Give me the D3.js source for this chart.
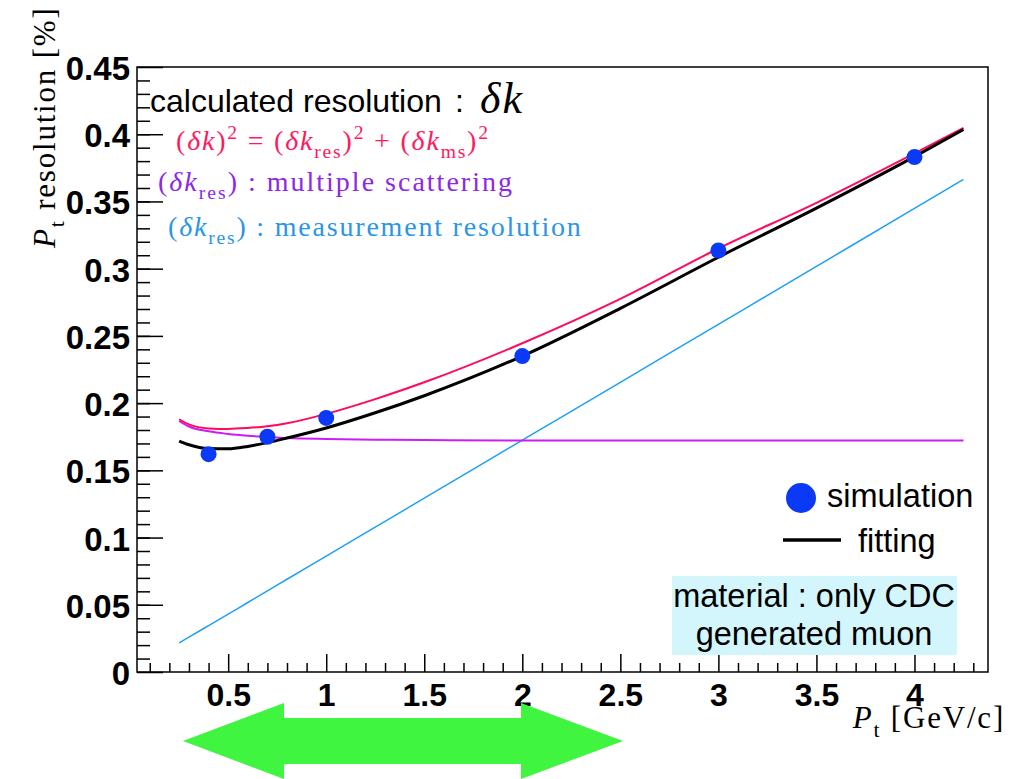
<!DOCTYPE html>
<html>
<head>
<meta charset="utf-8">
<script src="https://cdn.jsdelivr.net/npm/d3@7"></script>
<style>
  html, body { margin: 0; padding: 0; background: #fff; }
  svg { display: block; }
  .sans { font-family: "Liberation Sans", Arial, Helvetica, sans-serif; }
  .serif { font-family: "Liberation Serif", "DejaVu Serif", serif; }
</style>
</head>
<body>
<div id="chart"></div>
<script>
// simulated points
var simPt = [0.4, 0.7, 1.0, 2.0, 3.0, 4.0];
var simRes = [0.162, 0.175, 0.189, 0.235, 0.3135, 0.383];

// calculated curves
var curvePt = [0.25, 0.3, 0.4, 0.5, 0.6, 0.7, 0.8, 1.0, 1.25, 1.5, 2.0, 2.5, 3.0, 3.5, 4.0, 4.25];
var totalRes = [0.188, 0.1842, 0.1812, 0.1808, 0.1815, 0.1828, 0.185, 0.192, 0.203, 0.2155, 0.2445, 0.2775, 0.315, 0.349, 0.3858, 0.4048];
var msRes = [0.1868, 0.1826, 0.179, 0.177, 0.1757, 0.1748, 0.174, 0.1733, 0.1728, 0.1725, 0.1722, 0.1722, 0.1721, 0.1721, 0.1721, 0.1721];
var measRes = [0.0216, 0.0259, 0.0345, 0.0431, 0.0517, 0.0603, 0.069, 0.0862, 0.1078, 0.1293, 0.1724, 0.2155, 0.2586, 0.3017, 0.3448, 0.3664];
var fitRes = [0.1718, 0.169, 0.1662, 0.166, 0.1678, 0.1706, 0.174, 0.1815, 0.1928, 0.2055, 0.235, 0.2705, 0.3085, 0.345, 0.3833, 0.4035];

// axis ticks
var xTicks = [0.5, 1, 1.5, 2, 2.5, 3, 3.5, 4];
var xTickLabels = ["0.5", "1", "1.5", "2", "2.5", "3", "3.5", "4"];
var yTicks = [0, 0.05, 0.1, 0.15, 0.2, 0.25, 0.3, 0.35, 0.4, 0.45];
var yTickLabels = ["0", "0.05", "0.1", "0.15", "0.2", "0.25", "0.3", "0.35", "0.4", "0.45"];

var W = 1012, H = 779;
var frame = {left: 137, top: 67, right: 988, bottom: 672};

var svg = d3.select('#chart').append('svg')
  .attr('width', W)
  .attr('height', H);

var x = d3.scaleLinear().domain([0.035, 4.375]).range([frame.left, frame.right]);
var y = d3.scaleLinear().domain([0, 0.45]).range([frame.bottom, frame.top]);

// minor ticks
var xMinor = d3.range(1, 44).map(function(i) { return i / 10; }).filter(function(v) { return xTicks.indexOf(v) < 0; });
var yMinor = d3.range(1, 45).map(function(i) { return i / 100; });

svg.append('g')
  .attr('transform', 'translate(0,' + frame.bottom + ')')
  .call(d3.axisBottom(x).tickValues(xMinor).tickSize(-9).tickFormat(''))
  .call(function(g) { g.select('.domain').remove(); });

svg.append('g')
  .attr('transform', 'translate(' + frame.left + ',0)')
  .call(d3.axisLeft(y).tickValues(yMinor).tickSize(-13).tickFormat(''))
  .call(function(g) { g.select('.domain').remove(); });

var xAxis = svg.append('g')
  .attr('class', 'sans')
  .attr('transform', 'translate(0,' + frame.bottom + ')')
  .call(d3.axisBottom(x).tickValues(xTicks).tickSize(-18).tickPadding(11)
    .tickFormat(function(d, i) { return xTickLabels[i]; }));
xAxis.select('.domain').remove();
xAxis.selectAll('text')
  .attr('fill', '#000')
  .attr('font-size', 32)
  .attr('font-weight', 'bold');

var yAxis = svg.append('g')
  .attr('class', 'sans')
  .attr('transform', 'translate(' + frame.left + ',0)')
  .call(d3.axisLeft(y).tickValues(yTicks).tickSize(-26).tickPadding(7)
    .tickFormat(function(d, i) { return yTickLabels[i]; }));
yAxis.select('.domain').remove();
yAxis.selectAll('text')
  .attr('fill', '#000')
  .attr('font-size', 33)
  .attr('font-weight', 'bold')
  .attr('dy', '0.38em');
svg.selectAll('.tick line').attr('stroke', '#000').attr('stroke-width', 1.5);

// frame
svg.append('rect')
  .attr('x', frame.left)
  .attr('y', frame.top)
  .attr('width', frame.right - frame.left)
  .attr('height', frame.bottom - frame.top)
  .attr('fill', 'none')
  .attr('stroke', '#000')
  .attr('stroke-width', 1.5);

// curves
var line = d3.line()
  .x(function(d) { return x(d[0]); })
  .y(function(d) { return y(d[1]); })
  .curve(d3.curveMonotoneX);

function series(vals) {
  return curvePt.map(function(p, i) { return [p, vals[i]]; });
}

var curves = [
  {vals: measRes, color: '#1ea0f5', w: 1.5},
  {vals: msRes, color: '#cc1ef2', w: 2},
  {vals: totalRes, color: '#ff0a5c', w: 2},
  {vals: fitRes, color: '#000', w: 3}
];

svg.selectAll('path.curve')
  .data(curves)
  .enter()
  .append('path')
  .attr('class', 'curve')
  .attr('fill', 'none')
  .attr('stroke', function(d) { return d.color; })
  .attr('stroke-width', function(d) { return d.w; })
  .attr('d', function(d) { return line(series(d.vals)); });

svg.selectAll('circle.sim')
  .data(simPt)
  .enter()
  .append('circle')
  .attr('class', 'sim')
  .attr('cx', function(d) { return x(d); })
  .attr('cy', function(d, i) { return y(simRes[i]); })
  .attr('r', 8)
  .attr('fill', '#0a3af6');

// rich text helper: pieces of [text, kind]
function richText(g, px, py, size, color, pieces, spacing) {
  var t = g.append('text')
    .attr('class', 'serif')
    .attr('x', px)
    .attr('y', py)
    .attr('font-size', size)
    .attr('letter-spacing', spacing || 0)
    .attr('fill', color);
  var shift = 0;
  pieces.forEach(function(p) {
    var target = p[1] === 'sub' ? size * 0.3 : (p[1] === 'sup' ? -size * 0.4 : 0);
    var sp = t.append('tspan')
      .attr('dy', target - shift)
      .text(p[0]);
    shift = target;
    if (p[1] === 'i') sp.attr('font-style', 'italic');
    if (p[1] === 'sub' || p[1] === 'sup') sp.attr('font-size', size * 0.7);
  });
  return t;
}

// top-left labels
svg.append('text')
  .attr('class', 'sans')
  .attr('x', 150)
  .attr('y', 112)
  .attr('font-size', 32)
  .text('calculated resolution');
svg.append('text')
  .attr('class', 'sans')
  .attr('x', 455)
  .attr('y', 112)
  .attr('font-size', 32)
  .text(':');
svg.append('text')
  .attr('class', 'serif')
  .attr('x', 480)
  .attr('y', 113)
  .attr('font-size', 44)
  .attr('font-style', 'italic')
  .attr('letter-spacing', 2)
  .text('δk');

richText(svg, 176, 150, 28, '#ff1a5e', [
  ['(', ''], ['δk', 'i'], [')', ''], ['2', 'sup'], [' = (', ''], ['δk', 'i'], ['res', 'sub'],
  [')', ''], ['2', 'sup'], [' + (', ''], ['δk', 'i'], ['ms', 'sub'], [')', ''], ['2', 'sup']
], 1.8);
richText(svg, 158, 191, 28, '#8c28e6', [
  ['(', ''], ['δk', 'i'], ['res', 'sub'], [')', ''], [' : multiple scattering', '']
], 2);
richText(svg, 168, 236, 28, '#2a96e8', [
  ['(', ''], ['δk', 'i'], ['res', 'sub'], [')', ''], [' : measurement resolution', '']
], 1.8);

// legend
svg.append('circle')
  .attr('cx', 801)
  .attr('cy', 498)
  .attr('r', 15)
  .attr('fill', '#0a3af6');
svg.append('text')
  .attr('class', 'sans')
  .attr('x', 827)
  .attr('y', 507)
  .attr('font-size', 32.5)
  .text('simulation');
svg.append('line')
  .attr('x1', 783).attr('x2', 841)
  .attr('y1', 540).attr('y2', 540)
  .attr('stroke', '#000')
  .attr('stroke-width', 3.5);
svg.append('text')
  .attr('class', 'sans')
  .attr('x', 858)
  .attr('y', 552)
  .attr('font-size', 32.5)
  .text('fitting');

// info box
svg.append('rect')
  .attr('x', 672).attr('y', 576)
  .attr('width', 285).attr('height', 79)
  .attr('fill', '#d3f6fc');
svg.append('text')
  .attr('class', 'sans')
  .attr('x', 814).attr('y', 607)
  .attr('text-anchor', 'middle')
  .attr('font-size', 32.5)
  .text('material : only CDC');
svg.append('text')
  .attr('class', 'sans')
  .attr('x', 814).attr('y', 645)
  .attr('text-anchor', 'middle')
  .attr('font-size', 32.5)
  .text('generated muon');

// axis titles
var xt = richText(svg, 1005, 728, 31, '#000', [
  ['P', 'i'], ['t', 'sub'], [' [GeV/c]', '']
], 1.8);
xt.attr('text-anchor', 'end');

var yt = richText(svg, 0, 0, 31, '#000', [
  ['P', 'i'], ['t', 'sub'], [' resolution [%]', '']
], 1.8);
yt.attr('transform', 'translate(55,248) rotate(-90)');

// green double arrow
var arrow = [[183, 741], [284, 703], [284, 718], [521, 718], [521, 703], [623, 741],
  [521, 779], [521, 764], [284, 764], [284, 779]];
svg.append('polygon')
  .attr('points', arrow.map(function(p) { return p.join(','); }).join(' '))
  .attr('fill', '#3ff53f');
</script>
</body>
</html>
